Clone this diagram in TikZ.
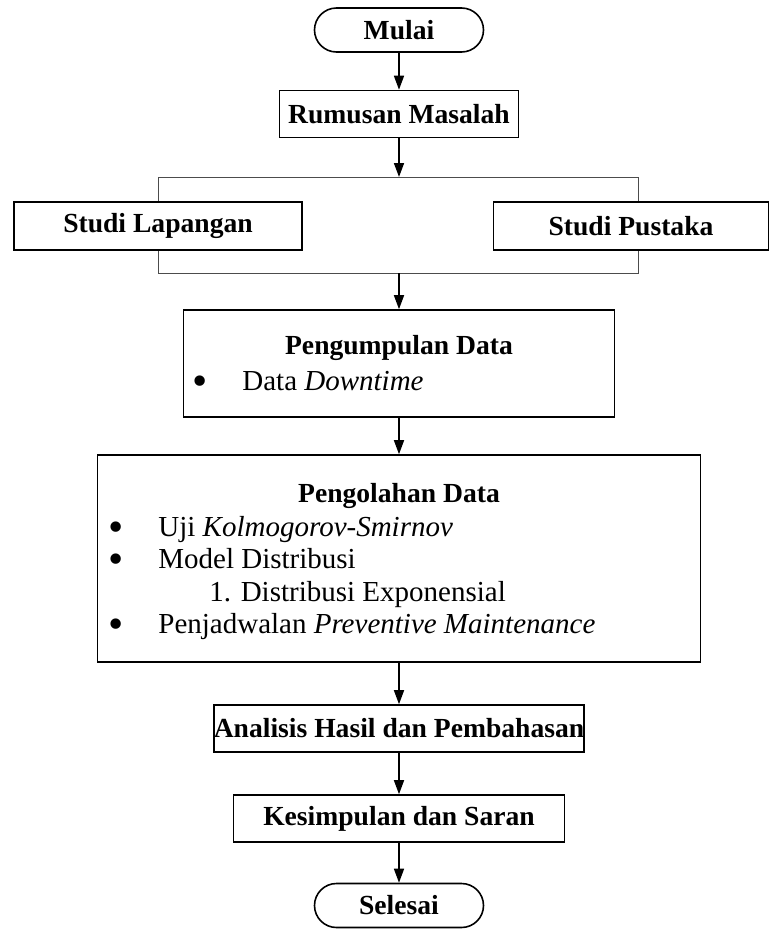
\documentclass[tikz,border=0pt]{standalone}
\usepackage{fontspec}
\setmainfont{Liberation Serif}
\usetikzlibrary{arrows.meta}
\newcommand{\itembul}{\makebox[24.75pt][l]{\raisebox{-2.3pt}{\scalebox{1.5}{\textbullet}}}}

\begin{document}
\begin{tikzpicture}[x=.5pt,y=-.5pt,
    box/.style={draw,thick,fill=white,inner sep=0pt,font=\fontsize{13.8}{16}\selectfont\bfseries},
    term/.style={box,rounded corners=11pt,minimum width=84.5pt,minimum height=22pt},
    flow/.style={thick,-{Triangle[length=7pt,width=5pt]}},
    item/.style={anchor=west,inner sep=0pt,text height=10pt,text depth=3.5pt,font=\fontsize{14.5}{16}\selectfont}]
      \useasboundingbox (0,0) rectangle (771,932);
      % bracket behind the two studies
      \coordinate (brtop) at (399,177);
      \coordinate (brbot) at (399,273);
      \draw[gray!60!black,line width=.5pt] (158,177) rectangle (638,273);
      \node[term] (mulai) at (399,30) {Mulai};
      \node[box,minimum width=119.5pt,minimum height=23.5pt] (rumusan) at (399,114) {Rumusan Masalah};
      \node[box,minimum width=144pt,minimum height=24pt] (lapangan) at (158,226) {Studi Lapangan};
      \node[box,minimum width=137.5pt,minimum height=24pt] (pustaka) at (631,226) {Studi Pustaka};
      \node[box,minimum width=215.5pt,minimum height=53.5pt] (kumpul) at (399,363.5) {};
      \node[box,draw=none,fill=none] (kumpultitle) at (399,348) {Pengumpulan Data};
      \node[item] (kumpul1) at (192.5,384) {\itembul Data \textit{Downtime}};
      \node[box,minimum width=301.5pt,minimum height=103.5pt] (olah) at (399,558.5) {};
      \node[box,draw=none,fill=none] (olahtitle) at (399,496) {Pengolahan Data};
      \node[item] (olah1) at (108.5,530) {\itembul Uji \textit{Kolmogorov-Smirnov}};
      \node[item] (olah2) at (108.5,562) {\itembul Model Distribusi};
      \node[item] (olah3) at (209,595) {1. Distribusi Exponensial};
      \node[item] (olah4) at (108.5,627) {\itembul Penjadwalan \textit{Preventive Maintenance}};
      \node[box,minimum width=183pt,minimum height=23.5pt] (analisis) at (399,728.5) {Analisis Hasil dan Pembahasan};
      \node[box,minimum width=165.5pt,minimum height=23.5pt] (simpul) at (399,818.5) {Kesimpulan dan Saran};
      \node[term] (selesai) at (399,905.5) {Selesai};
      \draw[flow] (mulai) -- (rumusan);
      \draw[flow] (rumusan) -- (brtop);
      \draw[flow] (brbot) -- (kumpul);
      \draw[flow] (kumpul) -- (olah);
      \draw[flow] (olah) -- (analisis);
      \draw[flow] (analisis) -- (simpul);
      \draw[flow] (simpul) -- (selesai);
    \end{tikzpicture}
\end{document}
